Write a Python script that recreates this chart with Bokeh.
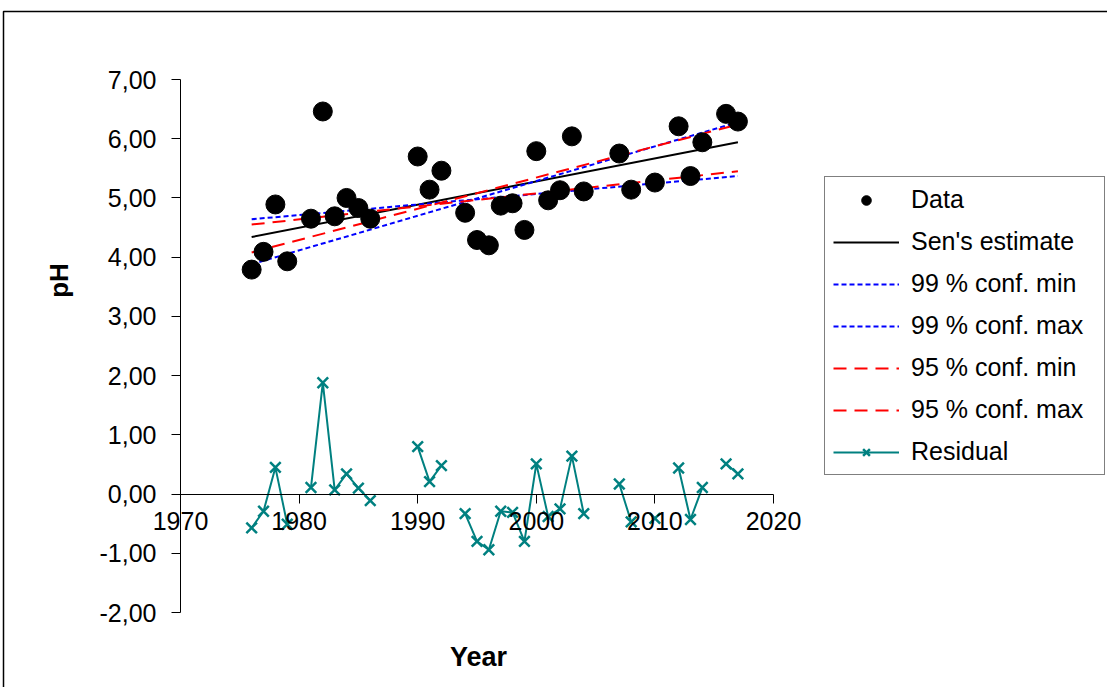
import math
from bokeh.plotting import figure
from bokeh.models import FixedTicker, Legend, LegendItem, Label, BoxAnnotation, Range1d
from bokeh.embed import file_html
from bokeh.resources import INLINE

# ---------------- data ----------------
years = [1976, 1977, 1978, 1979, 1981, 1982, 1983, 1984, 1985, 1986,
         1990, 1991, 1992, 1994, 1995, 1996, 1997, 1998, 1999, 2000,
         2001, 2002, 2003, 2004, 2007, 2008, 2010, 2012, 2013, 2014,
         2016, 2017]
ph = [3.79, 4.09, 4.89, 3.93, 4.65, 6.46, 4.69, 5.00, 4.83, 4.65,
      5.70, 5.14, 5.46, 4.75, 4.29, 4.20, 4.87, 4.91, 4.46, 5.79,
      4.96, 5.13, 6.04, 5.11, 5.75, 5.14, 5.26, 6.21, 5.37, 5.94,
      6.42, 6.29]
residual = [-0.57, -0.29, 0.45, -0.51, 0.11, 1.88, 0.07, 0.34, 0.10, -0.11,
            0.80, 0.21, 0.48, -0.33, -0.80, -0.94, -0.29, -0.31, -0.80, 0.51,
            -0.38, -0.25, 0.64, -0.33, 0.17, -0.47, -0.41, 0.44, -0.43, 0.11,
            0.51, 0.34]

trend_years = [1976, 2017]
sen_estimate = [4.34, 5.94]
conf99_min = [4.64, 5.37]
conf99_max = [3.88, 6.28]
conf95_min = [4.55, 5.45]
conf95_max = [4.08, 6.24]

x_ticks = [1970, 1980, 1990, 2000, 2010, 2020]
y_ticks = [-2, -1, 0, 1, 2, 3, 4, 5, 6, 7]
x_axis_min, x_axis_max = 1970, 2020
y_axis_min, y_axis_max = -2, 7

# residual line with gaps for missing years
res_x, res_y = [], []
for i, (yr, r) in enumerate(zip(years, residual)):
    if i > 0 and yr - years[i - 1] > 1:
        res_x.append(float("nan"))
        res_y.append(float("nan"))
    res_x.append(yr)
    res_y.append(r)

# ---------------- layout (pixels) ----------------
W, H = 1107, 687
PLOT_L, PLOT_R = 180, 773   # pixel x of x_axis_min / x_axis_max
PLOT_T, PLOT_B = 79, 612    # pixel y of y_axis_max / y_axis_min
xs = (x_axis_max - x_axis_min) / (PLOT_R - PLOT_L)
ys = (y_axis_max - y_axis_min) / (PLOT_B - PLOT_T)


def dx(px):
    return x_axis_min + (px - PLOT_L) * xs


def dy(py):
    return y_axis_max - (py - PLOT_T) * ys


FONT = "Liberation Sans"

p = figure(frame_width=W, frame_height=H, min_border=0,
           x_range=Range1d(dx(0), dx(W)), y_range=Range1d(dy(H), dy(0)),
           output_backend="svg", toolbar_location=None)
p.outline_line_color = None
p.xgrid.visible = False
p.ygrid.visible = False
p.background_fill_color = "white"
p.border_fill_color = "white"

# outer chart border
p.add_layout(BoxAnnotation(left=dx(3), top=dy(11), right=dx(W + 50), bottom=dy(H + 50),
                           fill_alpha=0, line_color="black", line_alpha=1,
                           line_width=1.5, level="underlay"))

# axes
p.yaxis.fixed_location = x_axis_min
p.yaxis.bounds = (y_axis_min, y_axis_max)
p.yaxis.ticker = FixedTicker(ticks=y_ticks)
p.yaxis.major_label_overrides = {t: f"{t:.2f}".replace(".", ",") for t in y_ticks}
p.yaxis.major_tick_out = 9
p.yaxis.major_tick_in = 0
p.yaxis.minor_tick_line_color = None
p.yaxis.major_label_standoff = 15
p.yaxis.major_label_text_font = FONT
p.yaxis.major_label_text_font_size = "25px"
p.yaxis.major_label_text_color = "black"
p.yaxis.axis_line_color = "black"
p.yaxis.major_tick_line_color = "black"

p.xaxis.fixed_location = 0
p.xaxis.bounds = (x_axis_min, x_axis_max)
p.xaxis.ticker = FixedTicker(ticks=x_ticks)
p.xaxis.major_tick_out = 9
p.xaxis.major_tick_in = 0
p.xaxis.minor_tick_line_color = None
p.xaxis.major_label_standoff = 9
p.xaxis.major_label_text_font = FONT
p.xaxis.major_label_text_font_size = "25px"
p.xaxis.major_label_text_color = "black"
p.xaxis.axis_line_color = "black"
p.xaxis.major_tick_line_color = "black"

# glyphs
r_sen = p.line(trend_years, sen_estimate, line_color="black", line_width=2)
r_99min = p.line(trend_years, conf99_min, line_color="#0000FF", line_width=2, line_dash="5 3")
r_99max = p.line(trend_years, conf99_max, line_color="#0000FF", line_width=2, line_dash="5 3")
r_95min = p.line(trend_years, conf95_min, line_color="#FF0000", line_width=2, line_dash="13 8")
r_95max = p.line(trend_years, conf95_max, line_color="#FF0000", line_width=2, line_dash="13 8")
r_resl = p.line(res_x, res_y, line_color="#008080", line_width=2)
r_resm = p.scatter(years, residual, marker="x", size=15, line_color="#008080", line_width=2.5)
r_data = p.scatter(years, ph, marker="circle", size=19, fill_color="black", line_color="black")

# axis titles
p.add_layout(Label(x=dx(58), y=dy(280), text="pH", angle=math.pi / 2,
                   text_align="center", text_baseline="middle",
                   text_font=FONT, text_font_size="26px", text_font_style="bold",
                   text_color="black"))
p.add_layout(Label(x=dx(478), y=dy(656), text="Year",
                   text_align="center", text_baseline="middle",
                   text_font=FONT, text_font_size="27px", text_font_style="bold",
                   text_color="black"))

legend = Legend(items=[
    LegendItem(label="Data", renderers=[r_data]),
    LegendItem(label="Sen's estimate", renderers=[r_sen]),
    LegendItem(label="99 % conf. min", renderers=[r_99min]),
    LegendItem(label="99 % conf. max", renderers=[r_99max]),
    LegendItem(label="95 % conf. min", renderers=[r_95min]),
    LegendItem(label="95 % conf. max", renderers=[r_95max]),
    LegendItem(label="Residual", renderers=[r_resl, r_resm]),
], location=(824, H - 475))
legend.padding = 8
legend.spacing = 13
legend.glyph_height = 24
legend.label_height = 24
legend.glyph_width = 66
legend.label_standoff = 12
legend.label_width = 185
legend.label_text_font = FONT
legend.label_text_font_size = "25px"
legend.label_text_color = "black"
legend.border_line_color = "black"
legend.border_line_width = 1
legend.background_fill_color = "white"
legend.background_fill_alpha = 1
legend.margin = 0
p.add_layout(legend, "center")

open("out.html", "w").write(file_html(p, INLINE))
